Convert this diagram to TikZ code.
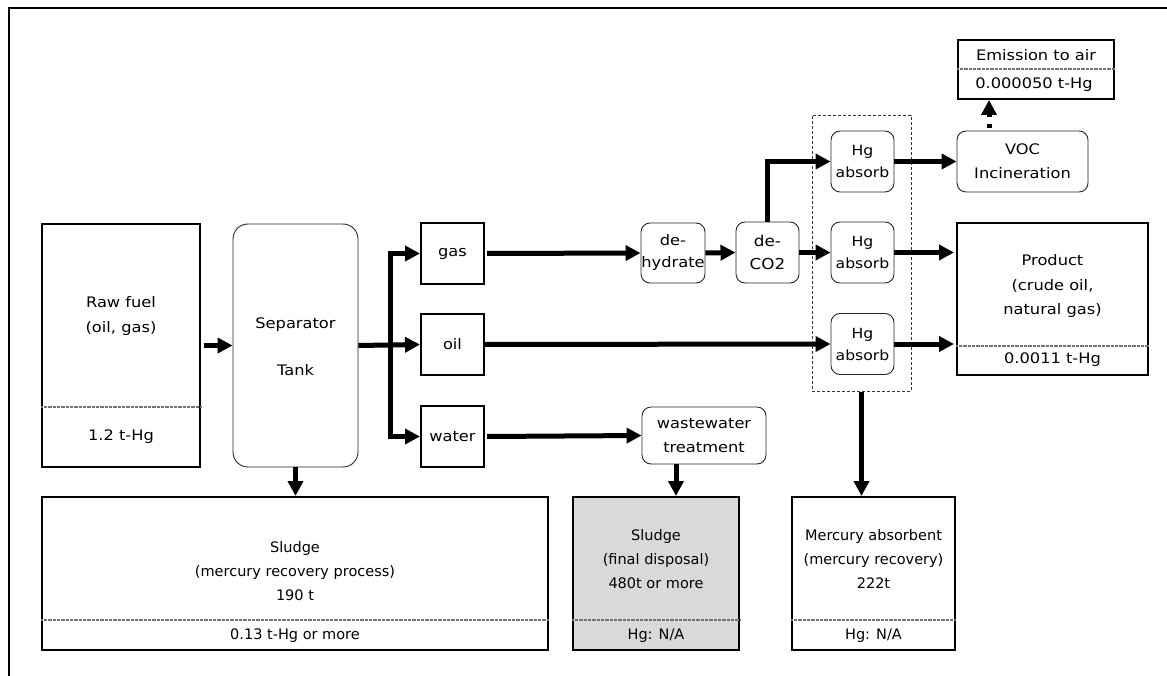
\documentclass[tikz,border=0pt]{standalone}
\usepackage{fontspec}
\setmainfont{DejaVu Sans}
\newfontfamily\wideface[FakeStretch=1.12]{DejaVu Sans}
\usetikzlibrary{arrows.meta}
\begin{document}
\begin{tikzpicture}[x=1pt,y=-1pt,
  thickbox/.style={draw, line width=2pt, inner sep=0pt},
  softbox/.style={draw=black!85, line width=0.9pt, rounded corners=9pt, inner sep=0pt,
    align=center, font=\wideface\fontsize{14}{22}\selectfont},
  maintext/.style={align=center, inner sep=0pt, font=\wideface\fontsize{14.5}{25}\selectfont},
  lowtext/.style={align=center, inner sep=0pt, font=\fontsize{14.5}{24}\selectfont},
  divider/.style={draw=black!55, line width=1.5pt, dash pattern=on 1pt off 0.3pt},
  flow/.style={line width=5pt, -{Triangle[length=15pt,width=15pt]}},
  bus/.style={line width=5pt},
]
\useasboundingbox (0,0) rectangle (1167,676);

% outer frame (top and left edges)
\draw[line width=1.5pt] (1167,8) -- (9,8) -- (9,676);

% raw fuel
\node[thickbox, minimum width=158pt, minimum height=243pt] (raw) at (121,345.5) {};
\draw[divider] ([yshift=61pt]raw.south west) -- ([yshift=61pt]raw.south east);
\node[maintext] (rawname) at (121,316) {Raw fuel\\(oil, gas)};
\node[maintext] (rawhg) at (121,437) {1.2 t-Hg};

% separator tank
\node[softbox, rounded corners=15pt, minimum width=125pt, minimum height=243pt] (sep) at (295.5,345.5) {};
\node[maintext] (septext) at (295.5,346.5) {Separator\\[22pt]Tank};

% phase boxes
\node[thickbox, minimum width=63pt, minimum height=61pt, font=\wideface\fontsize{14.5}{25}\selectfont] (gas) at (452.5,253.5) {gas};
\node[thickbox, minimum width=63pt, minimum height=61pt, font=\wideface\fontsize{14.5}{25}\selectfont] (oil) at (452.5,344.5) {oil};
\node[thickbox, minimum width=63pt, minimum height=61pt, font=\wideface\fontsize{14.5}{25}\selectfont] (water) at (452.5,436.5) {water};

% gas treatment
\node[softbox, minimum width=64pt, minimum height=60pt, font=\wideface\fontsize{14.5}{22}\selectfont] (dehyd) at (673,253) {de-\\hydrate};
\node[softbox, minimum width=63pt, minimum height=61pt, font=\wideface\fontsize{15}{23}\selectfont] (deco) at (767.5,252.5) {de-\\CO2};

% mercury absorbers
\node[draw=black!80, line width=0.8pt, dash pattern=on 3pt off 2pt, minimum width=99pt, minimum height=276pt, inner sep=0pt] (hgzone) at (861.5,253) {};
\node[softbox, minimum width=63pt, minimum height=61pt] (hga) at (862.5,161.5) {Hg\\absorb};
\node[softbox, minimum width=63pt, minimum height=61pt] (hgb) at (862.5,252.5) {Hg\\absorb};
\node[softbox, minimum width=63pt, minimum height=61pt] (hgc) at (862.5,344) {Hg\\absorb};

% VOC incineration and emission
\node[softbox, minimum width=131pt, minimum height=61pt, font=\wideface\fontsize{14.5}{24}\selectfont] (voc) at (1022.5,161.5) {VOC\\Incineration};
\node[thickbox, minimum width=156pt, minimum height=59pt] (emis) at (1036,69.5) {};
\draw[divider] ([yshift=-30pt]emis.north west) -- ([yshift=-30pt]emis.north east);
\node[maintext] (emisname) at (1036,55) {Emission to air};
\node[maintext] (emishg) at (1034,85) {0.000050 t-Hg};

% product
\node[thickbox, minimum width=191pt, minimum height=152pt] (prod) at (1052.5,299) {};
\draw[divider] ([yshift=30pt]prod.south west) -- ([yshift=30pt]prod.south east);
\node[maintext] (prodname) at (1052.5,286) {Product\\(crude oil,\\natural gas)};
\node[maintext] (prodhg) at (1052.5,360) {0.0011 t-Hg};

% wastewater treatment
\node[softbox, minimum width=124pt, minimum height=57pt, font=\wideface\fontsize{14.5}{24}\selectfont] (wwt) at (704,435.5) {wastewater\\treatment};

% residues
\node[thickbox, minimum width=506pt, minimum height=153pt] (sluA) at (295,573.5) {};
\draw[divider] ([yshift=31pt]sluA.south west) -- ([yshift=31pt]sluA.south east);
\node[lowtext] (sluAname) at (295,571) {Sludge\\(mercury recovery process)\\190 t};
\node[lowtext] (sluAhg) at (295,636) {0.13 t-Hg or more};

\node[thickbox, fill=black!15, minimum width=166pt, minimum height=153pt] (sluB) at (656,573.5) {};
\draw[divider] ([yshift=31pt]sluB.south west) -- ([yshift=31pt]sluB.south east);
\node[lowtext] (sluBname) at (656,559) {Sludge\\(final disposal)\\480t or more};
\node[lowtext] (sluBhg) at (656,636) {Hg: N/A};

\node[thickbox, minimum width=163pt, minimum height=153pt] (merc) at (873.5,573.5) {};
\draw[divider] ([yshift=31pt]merc.south west) -- ([yshift=31pt]merc.south east);
\node[lowtext] (mercname) at (873.5,559) {Mercury absorbent\\(mercury recovery)\\222t};
\node[lowtext] (merchg) at (873.5,636) {Hg: N/A};

% flows
\draw[flow] (raw.east) ++(3,0) -- (sep.west);
\draw[flow] (sep.east) -- (oil.west);
\draw[bus] ([xshift=32pt]sep.east) -- ([xshift=32pt]sep.east |- gas.west);
\draw[bus] ([xshift=32pt]sep.east) -- ([xshift=32pt]sep.east |- water.west);
\draw[flow] ([xshift=29.5pt]sep.east |- gas.west) -- (gas.west);
\draw[flow] ([xshift=29.5pt]sep.east |- water.west) -- (water.west);

\draw[flow] ([xshift=2pt]gas.east) -- (dehyd.west);
\draw[flow] (dehyd.east) -- (deco.west);
\draw[flow] (deco.east) -- (hgb.west);
\draw[flow, line join=miter] (deco.north) |- (hga.west);
\draw[flow] (oil.east) -- (hgc.west);
\draw[flow] (hga.east) -- (voc.west);
\draw[flow] (hgb.east) -- ([xshift=-2pt]prod.west |- hgb.east);
\draw[flow] (hgc.east) -- ([xshift=-2pt]prod.west |- hgc.east);
\draw[line width=5pt, dash pattern=on 4pt off 7pt, dash phase=8pt, -{Triangle[length=15pt,width=15pt]}]
  ([xshift=-33.5pt]voc.north) -- ([xshift=-33.5pt]voc.north |- emis.south);

\draw[flow] ([xshift=2pt]water.east) -- (wwt.west);
\draw[flow] (sep.south) -- (sep.south |- sluA.north);
\draw[flow] ([xshift=-28pt]wwt.south) -- ([xshift=-28pt]wwt.south |- sluB.north);
\draw[flow] ([yshift=-1pt]hgzone.south) -- (hgzone.south |- merc.north);
\end{tikzpicture}
\end{document}
